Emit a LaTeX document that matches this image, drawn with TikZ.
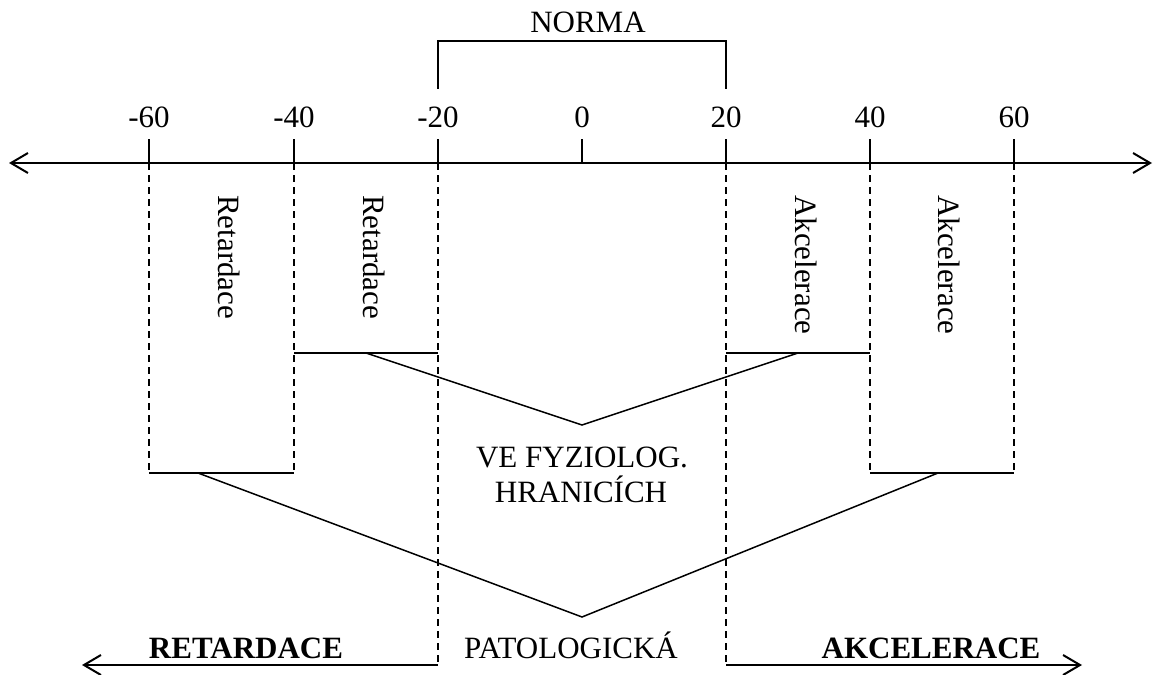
\documentclass[tikz,border=0pt]{standalone}
\usepackage{fontspec}
\setmainfont{Liberation Serif}
\usetikzlibrary{arrows.meta}
\tikzset{
  axisline/.style={line width=2pt, {Straight Barb[length=17pt,width=20pt,line width=2pt]}-{Straight Barb[length=17pt,width=20pt,line width=2pt]}},
  tickline/.style={line width=2pt},
  dashline/.style={line width=1.4pt, dash pattern=on 7pt off 5pt},
  thinline/.style={line width=1.5pt},
  bigarrow/.style={line width=2pt, -{Straight Barb[length=17pt,width=20pt,line width=2pt]}},
  lbl/.style={inner sep=0pt, anchor=base, font=\fontsize{31}{36}\selectfont},
  blbl/.style={inner sep=0pt, anchor=base, font=\fontsize{31}{36}\selectfont\bfseries},
  vlbl/.style={inner sep=0pt, anchor=base west, rotate=-90, font=\fontsize{31}{36}\selectfont}
}
\begin{document}
\begin{tikzpicture}[x=1pt, y=-1pt]
\useasboundingbox (0,0) rectangle (1158,674);
% axis
\coordinate (axL) at (9,163);
\coordinate (axR) at (1152,163);
\draw[axisline] (axL) -- (axR);
% ticks and labels
\foreach \v/\x in {m60/149, m40/294, m20/438, z0/582, p20/726, p40/870, p60/1014} {
  \coordinate (t\v) at (\x,163);
  \coordinate (tt\v) at (\x,139);
  \draw[tickline] (t\v) -- (tt\v);
}
\node[lbl] (lm60) at (149,128) {-60};
\node[lbl] (lm40) at (294,128) {-40};
\node[lbl] (lm20) at (438,128) {-20};
\node[lbl] (lz0) at (582,128) {0};
\node[lbl] (lp20) at (726,128) {20};
\node[lbl] (lp40) at (870,128) {40};
\node[lbl] (lp60) at (1014,128) {60};
% NORMA bracket
\coordinate (nb1) at (438,89);
\coordinate (nb2) at (438,41);
\coordinate (nb3) at (726,41);
\coordinate (nb4) at (726,89);
\draw[thinline] (nb1) -- (nb2) -- (nb3) -- (nb4);
\node[lbl] (norma) at (588,33) {NORMA};
% dashed verticals
\coordinate (dm60) at (149,473);
\coordinate (dm40) at (294,473);
\coordinate (dm20) at (438,665);
\coordinate (dp20) at (726,665);
\coordinate (dp40) at (870,473);
\coordinate (dp60) at (1014,473);
\draw[dashline] (tm60) -- (dm60);
\draw[dashline] (tm40) -- (dm40);
\draw[dashline] (tm20) -- (dm20);
\draw[dashline] (tp20) -- (dp20);
\draw[dashline] (tp40) -- (dp40);
\draw[dashline] (tp60) -- (dp60);
% vertical labels
\node[vlbl] (r1) at (218,195) {Retardace};
\node[vlbl] (r2) at (363,195) {Retardace};
\node[vlbl] (a1) at (795,195) {Akcelerace};
\node[vlbl] (a2) at (938,195) {Akcelerace};
% upper horizontals and V
\coordinate (uL1) at (294,353);
\coordinate (uL2) at (438,353);
\coordinate (uR1) at (726,353);
\coordinate (uR2) at (870,353);
\coordinate (uLj) at (366,353);
\coordinate (uRj) at (798,353);
\coordinate (uApex) at (582,425);
\draw[thinline] (uL1) -- (uL2);
\draw[thinline] (uR1) -- (uR2);
\draw[thinline] (uLj) -- (uApex) -- (uRj);
% lower horizontals and V
\coordinate (lL2) at (294,473);
\coordinate (lR1) at (870,473);
\coordinate (lLj) at (198,473);
\coordinate (lRj) at (938,473);
\coordinate (lApex) at (582,617);
\draw[thinline] (dm60) -- (lL2);
\draw[thinline] (lR1) -- (dp60);
\draw[thinline] (lLj) -- (lApex) -- (lRj);
% middle texts
\node[lbl] (fyz1) at (582,467) {VE FYZIOLOG.};
\node[lbl] (fyz2) at (581,502) {HRANICÍCH};
\node[lbl] (pat) at (571,658) {PATOLOGICKÁ};
% bottom arrows
\coordinate (bL) at (82,665);
\coordinate (bR) at (1082,665);
\draw[bigarrow] (dm20) -- (bL);
\draw[bigarrow] (dp20) -- (bR);
\node[blbl] (ret) at (246,658) {RETARDACE};
\node[blbl] (akc) at (931,658) {AKCELERACE};
\end{tikzpicture}
\end{document}
